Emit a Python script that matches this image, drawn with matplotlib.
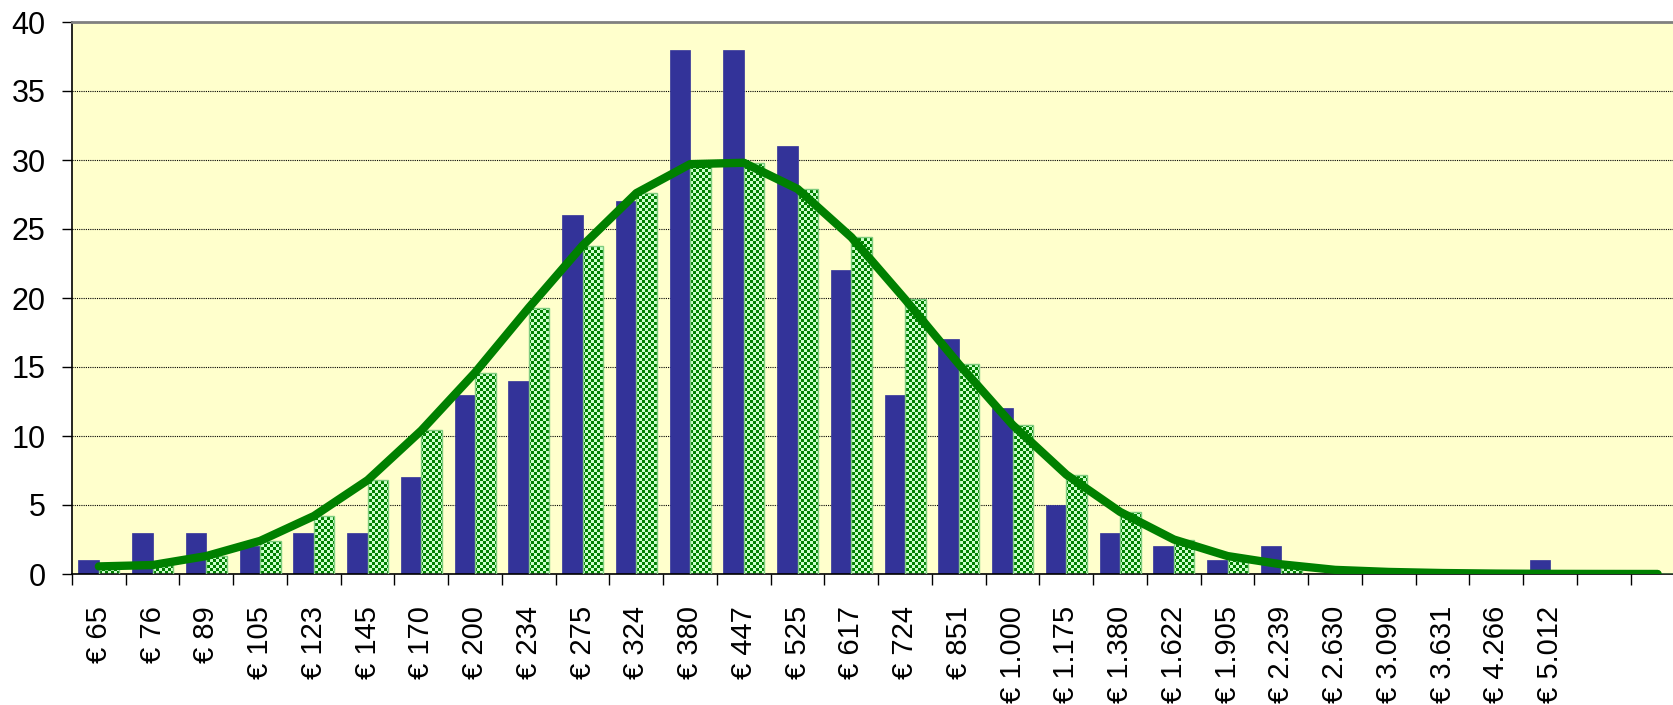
import numpy as np
import matplotlib
matplotlib.use("Agg")
import matplotlib.pyplot as plt
from matplotlib.colors import ListedColormap
from matplotlib.path import Path

plt.rcParams['font.family'] = ['Liberation Sans', 'DejaVu Sans']

categories = ["€ 65", "€ 76", "€ 89", "€ 105", "€ 123", "€ 145", "€ 170", "€ 200",
              "€ 234", "€ 275", "€ 324", "€ 380", "€ 447", "€ 525", "€ 617", "€ 724",
              "€ 851", "€ 1.000", "€ 1.175", "€ 1.380", "€ 1.622", "€ 1.905",
              "€ 2.239", "€ 2.630", "€ 3.090", "€ 3.631", "€ 4.266", "€ 5.012", "", ""]
observed = [1, 3, 3, 2, 3, 3, 7, 13, 14, 26, 27, 38, 38, 31, 22, 13, 17, 12, 5, 3,
            2, 1, 2, 0, 0, 0, 0, 1, 0, 0]
expected = [0.55, 0.65, 1.3, 2.4, 4.2, 6.8, 10.4, 14.6, 19.3, 23.8, 27.6, 29.7, 29.8,
            27.9, 24.4, 19.9, 15.2, 10.8, 7.2, 4.5, 2.5, 1.3, 0.7, 0.3, 0.15, 0.07,
            0.03, 0.01, 0.005, 0.002]
yticks = [0, 5, 10, 15, 20, 25, 30, 35, 40]

W, H, DPI = 1674, 705, 100
fig = plt.figure(figsize=(W / DPI, H / DPI), dpi=DPI)
left, right, top, bottom = 72, 72 + 30 * 53.75, 22, 574
ax = fig.add_axes([left / W, (H - bottom) / H, (right - left) / W, (bottom - top) / H])
ax.set_facecolor('#FFFFCC')

n = len(categories)
x = np.arange(n) + 0.5
bw = 0.38
ax.bar(x - bw / 2, observed, width=bw, color='#333399', edgecolor='#333399',
       linewidth=0.5, zorder=2)
gbars = ax.bar(x + bw / 2, expected, width=bw, facecolor='none', edgecolor='#7FCC7F',
               linewidth=1.0, zorder=3)

ax.set_xlim(0, n)
ax.set_ylim(0, 40)

# checker texture clipped to the green bars
bb = ax.get_window_extent()
cell = 3
nx = int(bb.width // cell) + 2
ny = int(bb.height // cell) + 2
arr = (np.add.outer(np.arange(ny), np.arange(nx)) % 2)
im = ax.imshow(arr, cmap=ListedColormap(['#CCFFCC', '#008000']), interpolation='nearest',
               origin='lower', transform=ax.transAxes,
               extent=(0, nx * cell / bb.width, 0, ny * cell / bb.height),
               aspect='auto', zorder=2.5)
paths = [b.get_path().transformed(b.get_patch_transform()) for b in gbars]
im.set_clip_path(Path.make_compound_path(*paths), ax.transData)

ax.plot(x, expected, color='#008000', linewidth=6, solid_capstyle='round',
        solid_joinstyle='round', zorder=4)

ax.set_xlim(0, n)
ax.set_ylim(0, 40)

ax.set_yticks(yticks)
ax.set_yticklabels([str(v) for v in yticks])
ax.yaxis.grid(True, color='black', linestyle=(0, (1, 1)), linewidth=0.8)
ax.set_axisbelow(True)

ax.set_xticks(np.arange(n + 1))
ax.set_xticklabels([])
ax.set_xticks(x, minor=True)
ax.set_xticklabels(categories, minor=True, rotation=90)
ax.tick_params(axis='x', which='major', direction='out', length=8, width=1, color='black')
ax.tick_params(axis='x', which='minor', length=0, pad=23, labelsize=21)
ax.tick_params(axis='y', direction='out', length=7, width=1, pad=12, labelsize=22)

for s in ['left', 'bottom']:
    ax.spines[s].set_color('black')
    ax.spines[s].set_linewidth(1.2)
ax.spines['top'].set_color('#808080')
ax.spines['top'].set_linewidth(2)
ax.spines['right'].set_visible(False)

fig.savefig('out.png', dpi=DPI, facecolor='white')
